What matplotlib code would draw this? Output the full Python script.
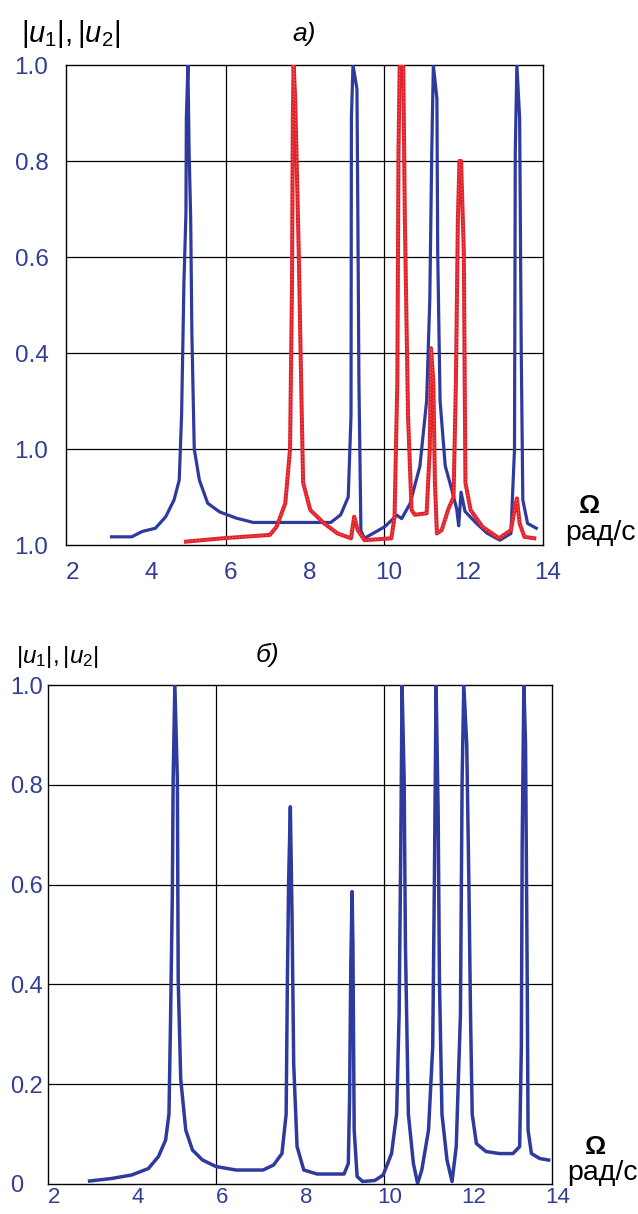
import numpy as np
import matplotlib
matplotlib.use("Agg")
import matplotlib.pyplot as plt
import matplotlib.transforms as mtrans

plt.rcParams["font.family"] = ["Liberation Sans", "DejaVu Sans"]
plt.rcParams["mathtext.fontset"] = "custom"
plt.rcParams["mathtext.rm"] = "Liberation Sans"
plt.rcParams["mathtext.it"] = "Liberation Sans:italic"

BLUE = "#2E3A9E"
RED = "#E3232B"
TICK = "#323D94"

# ---- panel a) : two curves ----
a_blue_x = [3.12, 3.63, 3.89, 4.23, 4.49, 4.70, 4.83, 4.89, 4.95, 5.00, 5.01, 5.05, 5.08, 5.12,
            5.15, 5.21, 5.34, 5.55, 5.85, 6.27, 6.70, 8.66, 8.91, 9.10, 9.17, 9.18, 9.22, 9.32,
            9.34, 9.37, 9.42, 9.51, 10.02, 10.33, 10.45, 10.66, 10.91, 11.08, 11.16, 11.21,
            11.25, 11.34, 11.36, 11.42, 11.55, 11.70, 11.84, 11.89, 11.95, 12.05, 12.34, 12.60,
            12.93, 13.21, 13.30, 13.32, 13.36, 13.43, 13.47, 13.51, 13.63, 13.85]
a_blue_y = [0.017, 0.017, 0.028, 0.035, 0.059, 0.094, 0.135, 0.27, 0.55, 0.69, 0.89, 1.0, 0.82, 0.68,
            0.44, 0.20, 0.135, 0.087, 0.069, 0.056, 0.047, 0.047, 0.063, 0.10, 0.27, 0.89, 1.0, 0.95,
            0.72, 0.34, 0.03, 0.014, 0.038, 0.062, 0.055, 0.086, 0.164, 0.30, 0.51, 0.82,
            1.0, 0.93, 0.61, 0.30, 0.165, 0.12, 0.075, 0.04, 0.11, 0.07, 0.045, 0.025,
            0.01, 0.024, 0.20, 0.82, 1.0, 0.89, 0.41, 0.094, 0.045, 0.035]

a_red_x = [5.00, 5.93, 7.12, 7.29, 7.51, 7.63, 7.68, 7.70, 7.72, 7.76, 7.85, 7.91, 7.96, 8.14,
           8.49, 8.83, 9.17, 9.25, 9.34, 9.51, 10.19, 10.27, 10.34, 10.37, 10.40, 10.49, 10.53,
           10.61, 10.70, 10.78, 11.08, 11.16, 11.19, 11.25, 11.29, 11.34, 11.46, 11.63, 11.76,
           11.82, 11.87, 11.91, 11.95, 12.02, 12.06, 12.19, 12.49, 12.91, 13.21, 13.30, 13.36,
           13.43, 13.55, 13.80]
a_red_y = [0.007, 0.014, 0.021, 0.038, 0.087, 0.20, 0.55, 0.89, 1.0, 0.93, 0.61, 0.34, 0.13, 0.073,
           0.045, 0.024, 0.014, 0.059, 0.031, 0.010, 0.014, 0.059, 0.34, 0.82, 1.0, 1.0, 0.68,
           0.27, 0.073, 0.063, 0.066, 0.20, 0.41, 0.34, 0.13, 0.024, 0.031, 0.075, 0.10,
           0.34, 0.68, 0.80, 0.80, 0.61, 0.13, 0.073, 0.038, 0.014, 0.031, 0.073, 0.097,
           0.045, 0.017, 0.014]

# ---- panel б) : single curve ----
b_x = [2.99, 3.51, 3.99, 4.39, 4.63, 4.80, 4.88, 4.92, 4.96, 4.98, 5.02, 5.08, 5.10, 5.16, 5.28,
       5.44, 5.68, 6.00, 6.48, 7.12, 7.37, 7.57, 7.67, 7.70, 7.73, 7.77, 7.81, 7.85, 7.93, 8.09,
       8.41, 9.05, 9.15, 9.18, 9.21, 9.24, 9.26, 9.29, 9.36, 9.49, 9.78, 9.98, 10.18, 10.30,
       10.36, 10.40, 10.43, 10.48, 10.51, 10.58, 10.70, 10.80, 10.90, 11.06, 11.16, 11.20,
       11.24, 11.29, 11.32, 11.38, 11.50, 11.62, 11.72, 11.82, 11.86, 11.90, 11.97, 12.02,
       12.06, 12.10, 12.20, 12.43, 12.75, 13.07, 13.23, 13.27, 13.29, 13.33, 13.37, 13.41,
       13.43, 13.51, 13.71, 13.92]
b_y = [0.006, 0.011, 0.018, 0.031, 0.055, 0.088, 0.14, 0.34, 0.58, 0.81, 1.0, 0.81, 0.41, 0.21, 0.108,
       0.068, 0.048, 0.035, 0.028, 0.028, 0.038, 0.061, 0.14, 0.41, 0.61, 0.756, 0.54, 0.24, 0.075, 0.028,
       0.020, 0.020, 0.041, 0.17, 0.44, 0.586, 0.48, 0.108, 0.015, 0.005, 0.007, 0.018, 0.061, 0.14,
       0.34, 0.68, 1.0, 0.81, 0.48, 0.14, 0.041, 0.001, 0.028, 0.108, 0.275, 0.61,
       1.0, 0.74, 0.41, 0.14, 0.048, 0.005, 0.075, 0.34, 0.81, 1.0, 0.88, 0.61,
       0.34, 0.14, 0.081, 0.065, 0.061, 0.061, 0.075, 0.275, 0.68, 1.0, 0.88, 0.41,
       0.108, 0.061, 0.051, 0.048]

x_ticks = [2, 4, 6, 8, 10, 12, 14]
x_grid = [6, 10]
y_ticks = [0, 0.2, 0.4, 0.6, 0.8, 1.0]
y_grid = [0.2, 0.4, 0.6, 0.8]
a_ytick_labels = ["1.0", "1.0", "0.4", "0.6", "0.8", "1.0"]
b_ytick_labels = ["0", "0.2", "0.4", "0.6", "0.8", "1.0"]

W, H = 638, 1214
fig = plt.figure(figsize=(W / 100, H / 100), dpi=100, facecolor="white")


def frame(ax, xlim, ytick_labels, fs, xfs, ypad, xpad, xshift):
    ax.set_xlim(*xlim)
    ax.set_ylim(0, 1.0)
    for v in x_grid:
        ax.axvline(v, color="black", lw=0.9, zorder=1)
    for v in y_grid:
        ax.axhline(v, color="black", lw=0.9, zorder=1)
    for s in ax.spines.values():
        s.set_linewidth(1.0)
        s.set_color("black")
    ax.set_xticks(x_ticks)
    ax.set_xticklabels([str(t) for t in x_ticks])
    ax.set_yticks(y_ticks)
    ax.set_yticklabels(ytick_labels)
    ax.tick_params(axis="both", length=0, labelcolor=TICK)
    ax.tick_params(axis="y", pad=ypad, labelsize=fs)
    ax.tick_params(axis="x", pad=xpad, labelsize=xfs)
    for lab in ax.get_yticklabels():
        lab.set_horizontalalignment("left")
    off = mtrans.ScaledTranslation(xshift / 100, 0, fig.dpi_scale_trans)
    for lab in ax.get_xticklabels():
        lab.set_transform(lab.get_transform() + off)


# panel a)
ax_a = fig.add_axes([66 / W, 1 - 545 / H, (543 - 66) / W, (545 - 65) / H])
frame(ax_a, (1.97, 14.02), a_ytick_labels, 17.5, 17.5, 37, 12, 5)
ax_a.plot(a_blue_x, a_blue_y, color=BLUE, lw=2.3, zorder=3)
ax_a.plot(a_red_x, a_red_y, color=RED, lw=2.9, zorder=4)
ax_a.plot(a_red_x, a_red_y, color="#F6A0A0", lw=0.6, ls=(0, (1, 3)), zorder=5)

fig.text(71 / W, 1 - 34 / H, r"$|u_1|,|u_2|$", fontsize=21, ha="center", va="center")
fig.text(304 / W, 1 - 34 / H, "a)", fontsize=19, style="italic", ha="center", va="center")
fig.text(590 / W, 1 - 506 / H, "Ω", fontsize=19, fontweight="bold", ha="center", va="center")
fig.text(600 / W, 1 - 533 / H, "рад/с", fontsize=20.5, ha="center", va="center")

# panel б)
ax_b = fig.add_axes([48 / W, 1 - 1184 / H, (552 - 48) / W, (1184 - 685) / H])
frame(ax_b, (2.0, 14.0), b_ytick_labels, 17, 16, 27.4, 2.5, 6)
ax_b.plot(b_x, b_y, color=BLUE, lw=2.5, zorder=3)

fig.text(57 / W, 1 - 657 / H, r"$|u_1|,|u_2|$", fontsize=17.5, ha="center", va="center")
fig.text(267 / W, 1 - 655 / H, "б)", fontsize=19, style="italic", ha="center", va="center")
fig.text(595 / W, 1 - 1147 / H, "Ω", fontsize=19, fontweight="bold", ha="center", va="center")
fig.text(602 / W, 1 - 1173 / H, "рад/с", fontsize=20.5, ha="center", va="center")

fig.savefig("out.png", dpi=100, facecolor="white")
